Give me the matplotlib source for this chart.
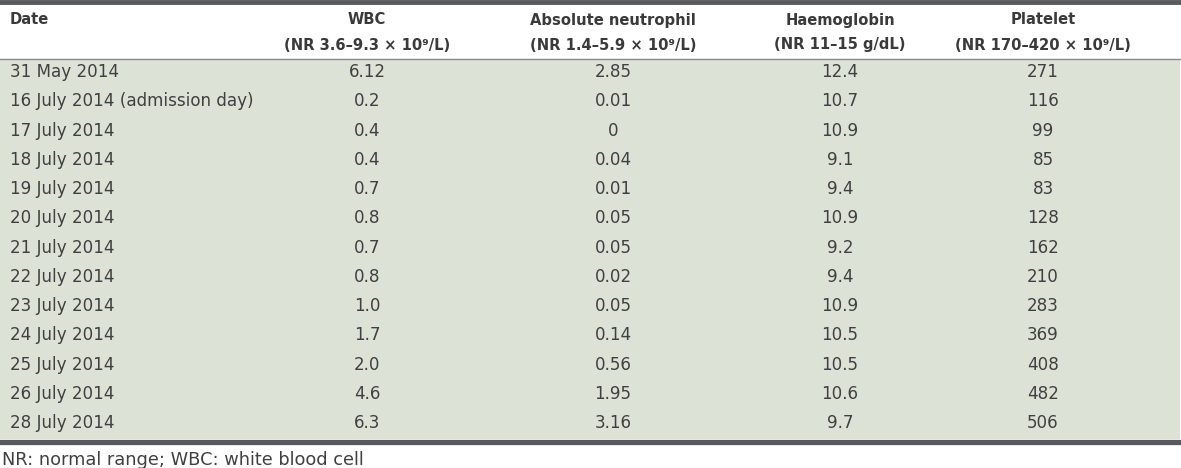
import matplotlib.pyplot as plt

# Table data
dates = ['31 May 2014', '16 July 2014 (admission day)', '17 July 2014', '18 July 2014',
         '19 July 2014', '20 July 2014', '21 July 2014', '22 July 2014', '23 July 2014',
         '24 July 2014', '25 July 2014', '26 July 2014', '28 July 2014']
wbc = ['6.12', '0.2', '0.4', '0.4', '0.7', '0.8', '0.7', '0.8', '1.0', '1.7', '2.0', '4.6', '6.3']
neutrophil = ['2.85', '0.01', '0', '0.04', '0.01', '0.05', '0.05', '0.02', '0.05', '0.14',
              '0.56', '1.95', '3.16']
haemoglobin = ['12.4', '10.7', '10.9', '9.1', '9.4', '10.9', '9.2', '9.4', '10.9', '10.5',
               '10.5', '10.6', '9.7']
platelet = ['271', '116', '99', '85', '83', '128', '162', '210', '283', '369', '408', '482', '506']

headers = ['Date', 'WBC', 'Absolute neutrophil', 'Haemoglobin', 'Platelet']
subheaders = ['', '(NR 3.6\u20139.3 \u00d7 10\u2079/L)', '(NR 1.4\u20135.9 \u00d7 10\u2079/L)',
              '(NR 11\u201315 g/dL)', '(NR 170\u2013420 \u00d7 10\u2079/L)']
footnote = 'NR: normal range; WBC: white blood cell'

plt.rcParams['font.family'] = ['DejaVu Sans']

W, H = 1181, 468
fig = plt.figure(figsize=(W / 100, H / 100), dpi=100)
ax = fig.add_axes([0, 0, 1, 1])
ax.set_xlim(0, W)
ax.set_ylim(H, 0)
ax.axis('off')

txt = '#404040'
fs = 12.1
hfs = 10.6

# background and rules
top_body, row_h = 59, 29.25
n = len(dates)
bottom = top_body + n * row_h
ax.axhspan(top_body, bottom, xmin=0, xmax=1180 / W, color='#dce3d6', lw=0)
ax.axhline(2, color='#58595b', lw=3.5)
ax.axhline(top_body, color='#8a8a8a', lw=1)
ax.axhline(bottom + 2.5, color='#58595b', lw=3.8)

col_x = [10, 367, 613, 840, 1043]
# header
ax.text(col_x[0], 20, headers[0], ha='left', va='center', fontsize=hfs,
        fontweight='bold', color='#3a3a3a')
for x, h, s in zip(col_x[1:], headers[1:], subheaders[1:]):
    ax.text(x, 20, h, ha='center', va='center', fontsize=hfs, fontweight='bold', color='#3a3a3a')
    ax.text(x, 45, s, ha='center', va='center', fontsize=hfs, fontweight='bold', color='#3a3a3a')

columns = [wbc, neutrophil, haemoglobin, platelet]
for i in range(n):
    y = top_body + row_h * (i + 0.5) - 1.5
    ax.text(col_x[0], y, dates[i], ha='left', va='center', fontsize=fs, color=txt)
    for x, col in zip(col_x[1:], columns):
        ax.text(x, y, col[i], ha='center', va='center', fontsize=fs, color=txt)

ax.text(2, 460, footnote, ha='left', va='center', fontsize=12.8, color=txt)

fig.savefig('out.png', dpi=100)
